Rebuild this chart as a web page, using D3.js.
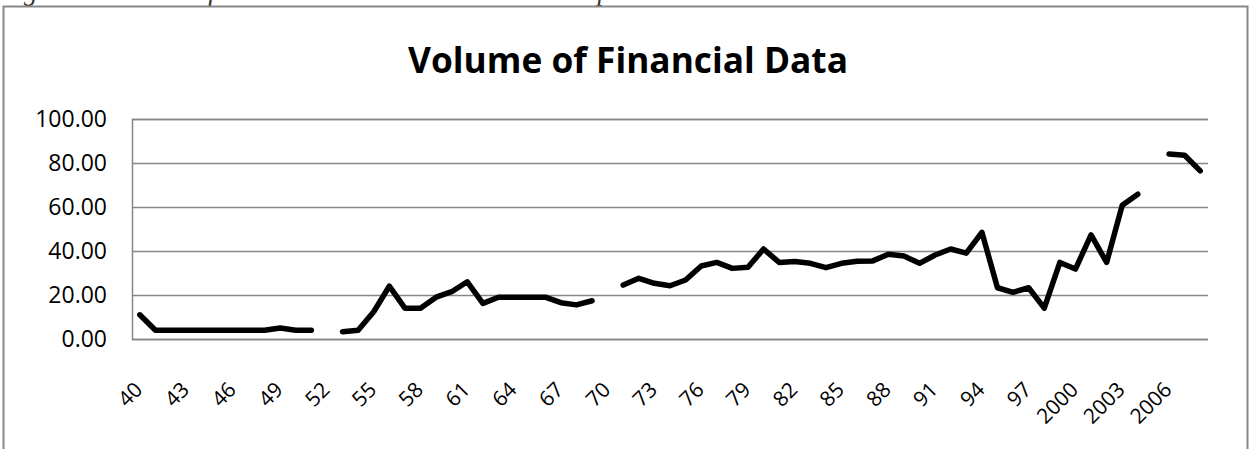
<!DOCTYPE html>
<html>
<head>
<meta charset="utf-8">
<script src="https://cdn.jsdelivr.net/npm/d3@7/dist/d3.min.js"></script>
<style>
  html, body { margin: 0; padding: 0; background: #fff; }
  svg { display: block; }
</style>
</head>
<body>
<svg id="chart" width="1254" height="449"></svg>
<script>
// ---- data ----
const years = d3.range(1940, 2009);
const values = [
  11.0, 4.0, 4.0, 4.0, 4.0, 4.0, 4.0, 4.0, 4.0, 5.0,   // 1940-1949
  4.0, 4.0, null, 3.3, 4.0, 12.4, 24.0, 14.0, 14.0, 19.0, // 1950-1959
  21.5, 26.0, 16.2, 19.0, 19.0, 19.0, 19.0, 16.5, 15.5, 17.4, // 1960-1969
  null, 24.5, 27.6, 25.3, 24.2, 26.8, 33.2, 34.8, 32.1, 32.6, // 1970-1979
  40.9, 34.8, 35.2, 34.4, 32.4, 34.4, 35.3, 35.5, 38.5, 37.7, // 1980-1989
  34.4, 38.2, 40.9, 39.0, 48.5, 23.3, 21.2, 23.3, 14.0, 34.8, // 1990-1999
  31.8, 47.3, 34.8, 60.8, 65.8, null, 84.1, 83.5, 76.4        // 2000-2008
];
const yTicks = [0, 20, 40, 60, 80, 100];
const tickYears = years.filter(y => (y - 1940) % 3 === 0);
const tickLabel = y => (y >= 2000 ? String(y) : String(y % 100).padStart(2, "0"));
const titleText = "Volume of Financial Data";
const captionText = "Figure 4: Volume of Financial Data Source: Annual Reports";

// ---- layout ----
const svg = d3.select("#chart");
const plot = { left: 132, right: 1208, top: 119, bottom: 339 };

const x = d3.scaleBand().domain(years).range([plot.left, plot.right]).padding(0);
const y = d3.scaleLinear().domain([0, 100]).range([plot.bottom, plot.top]);
const cx = d => x(d) + x.bandwidth() / 2;

// caption (mostly above the page edge, as in the reference)
svg.append("text")
  .attr("x", 0).attr("y", 0)
  .attr("font-family", "Liberation Serif, serif")
  .attr("font-style", "italic")
  .attr("font-size", 27)
  .attr("fill", "#333")
  .text(captionText);

// chart border
svg.append("rect")
  .attr("x", 3.5).attr("y", 6.5)
  .attr("width", 1244).attr("height", 460)
  .attr("fill", "#fff")
  .attr("stroke", "#878787")
  .attr("stroke-width", 2);

// title
const title = svg.append("text")
  .attr("x", 628).attr("y", 73)
  .attr("text-anchor", "middle")
  .attr("font-family", "Open Sans, sans-serif")
  .attr("font-weight", "bold")
  .attr("font-size", 36)
  .attr("fill", "#000")
  .text(titleText);
const tw = title.node().getComputedTextLength();
title.attr("font-size", 36 * 440 / tw);

// gridlines + y labels
const yAxis = d3.axisLeft(y).tickValues(yTicks)
  .tickSize(-(plot.right - plot.left))
  .tickFormat(d => d.toFixed(2))
  .tickPadding(25);
const gy = svg.append("g")
  .attr("transform", `translate(${plot.left},0)`)
  .call(yAxis);
gy.select(".domain").attr("stroke", "#868686").attr("stroke-width", 1.5);
gy.selectAll(".tick line").attr("stroke", "#868686").attr("stroke-width", 1.5);
gy.selectAll(".tick text")
  .attr("font-family", "Open Sans, sans-serif")
  .attr("font-size", 23)
  .attr("fill", "#000");

// x axis labels
const xAxis = d3.axisBottom(x).tickValues(tickYears).tickSize(0).tickFormat(tickLabel);
const gx = svg.append("g")
  .attr("transform", `translate(0,${plot.bottom})`)
  .call(xAxis);
gx.select(".domain").remove();
gx.selectAll(".tick text")
  .attr("font-family", "Open Sans, sans-serif")
  .attr("font-size", 21)
  .attr("fill", "#000")
  .attr("text-anchor", "end")
  .attr("dy", null)
  .attr("y", 0)
  .attr("transform", "translate(4,52) rotate(-45)");

// line
const line = d3.line()
  .defined((d, i) => values[i] !== null)
  .x((d, i) => cx(years[i]))
  .y((d, i) => y(values[i]));
svg.append("path")
  .datum(values)
  .attr("fill", "none")
  .attr("stroke", "#000")
  .attr("stroke-width", 5.5)
  .attr("stroke-linejoin", "round")
  .attr("stroke-linecap", "round")
  .attr("d", line);
</script>
</body>
</html>
